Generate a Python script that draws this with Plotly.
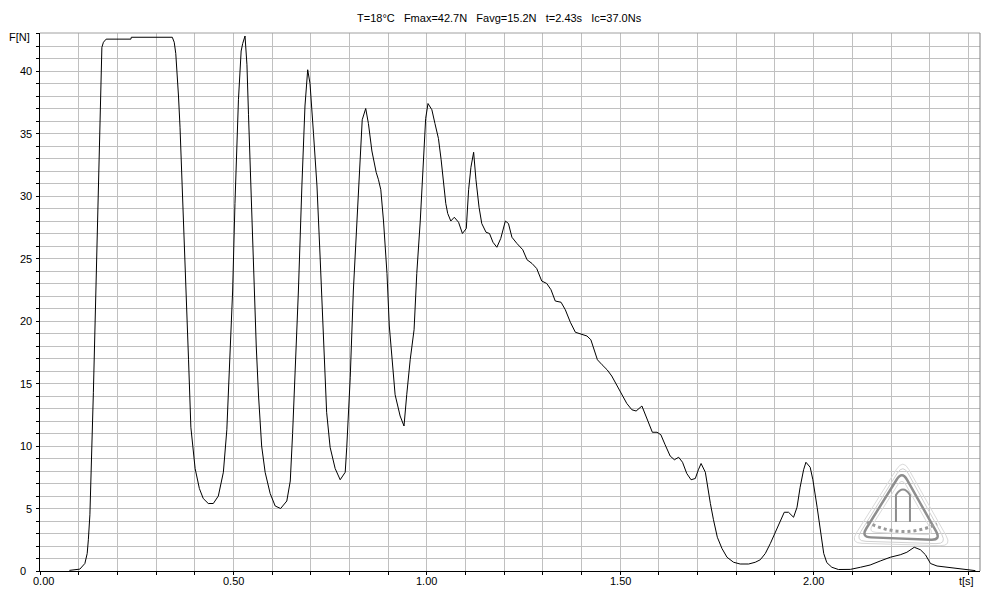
import plotly.graph_objects as go

# ---- data (time in s, force in N) ----
t_s = [0.076, 0.103, 0.116, 0.122, 0.125, 0.129, 0.138, 0.147, 0.155, 0.160, 0.164, 0.171,
       0.235, 0.236, 0.342, 0.347, 0.351, 0.354, 0.358, 0.362, 0.366, 0.371, 0.377, 0.384,
       0.390, 0.396, 0.401, 0.412, 0.422, 0.435, 0.448, 0.461, 0.474, 0.483, 0.491, 0.498,
       0.504, 0.513, 0.520, 0.524, 0.530, 0.535, 0.539, 0.543, 0.548, 0.553, 0.559, 0.565,
       0.573, 0.582, 0.595, 0.608, 0.622, 0.638, 0.647, 0.653, 0.659, 0.668, 0.677, 0.685,
       0.692, 0.698, 0.707, 0.716, 0.724, 0.733, 0.741, 0.750, 0.763, 0.776, 0.789, 0.793,
       0.802, 0.810, 0.819, 0.828, 0.833, 0.842, 0.849, 0.858, 0.869, 0.875, 0.881, 0.888,
       0.897, 0.903, 0.910, 0.918, 0.931, 0.941, 0.948, 0.957, 0.967, 0.974, 0.983, 0.991,
       0.997, 1.003, 1.013, 1.021, 1.030, 1.037, 1.043, 1.049, 1.054, 1.062, 1.071, 1.082,
       1.092, 1.102, 1.108, 1.114, 1.121, 1.127, 1.135, 1.142, 1.153, 1.162, 1.171, 1.181,
       1.191, 1.203, 1.211, 1.220, 1.233, 1.248, 1.259, 1.272, 1.284, 1.297, 1.310, 1.321,
       1.332, 1.347, 1.358, 1.371, 1.384, 1.396, 1.414, 1.424, 1.433, 1.441, 1.453, 1.466,
       1.478, 1.491, 1.504, 1.517, 1.530, 1.541, 1.556, 1.562, 1.573, 1.583, 1.595, 1.605,
       1.616, 1.629, 1.640, 1.651, 1.661, 1.672, 1.683, 1.694, 1.702, 1.709, 1.720, 1.726,
       1.733, 1.741, 1.751, 1.763, 1.776, 1.793, 1.810, 1.832, 1.849, 1.862, 1.875, 1.888,
       1.901, 1.914, 1.924, 1.935, 1.948, 1.957, 1.965, 1.974, 1.980, 1.991, 1.998, 2.009,
       2.017, 2.026, 2.034, 2.047, 2.064, 2.095, 2.121, 2.146, 2.172, 2.198, 2.224, 2.241,
       2.260, 2.276, 2.289, 2.302, 2.319, 2.345, 2.379, 2.405, 2.418]

force_N = [0.05, 0.15, 0.6, 1.4, 2.5, 4.5, 14.3, 26.6, 36.4, 41.9, 42.3, 42.55,
           42.55, 42.7, 42.7, 42.3, 41.4, 40.2, 38.0, 35.5, 32.3, 28.2, 22.6, 16.9,
           11.5, 9.6, 8.2, 6.6, 5.8, 5.4, 5.4, 6.0, 7.9, 11.3, 16.8, 22.4,
           29.4, 37.7, 41.6, 42.2, 42.8, 40.5, 36.5, 32.5, 27.5, 22.5, 18.0, 14.0,
           10.0, 7.9, 6.2, 5.2, 5.0, 5.6, 7.2, 11.0, 15.5, 22.4, 30.8, 37.2,
           40.1, 39.0, 35.0, 30.8, 25.2, 18.2, 12.7, 9.9, 8.2, 7.3, 7.9, 9.9,
           15.5, 22.4, 28.0, 33.6, 36.1, 37.0, 35.8, 33.6, 31.9, 31.3, 30.5, 28.0,
           23.8, 19.6, 16.9, 14.1, 12.4, 11.6, 14.1, 16.9, 19.3, 23.8, 28.0, 32.7,
           36.2, 37.4, 36.9, 35.8, 34.6, 32.9, 31.3, 29.4, 28.6, 28.0, 28.3, 27.9,
           27.0, 27.4, 30.5, 32.3, 33.5, 31.3, 29.1, 27.8, 27.1, 27.0, 26.3, 25.9,
           26.6, 28.0, 27.8, 26.7, 26.2, 25.7, 24.9, 24.6, 24.2, 23.2, 23.0, 22.5,
           21.6, 21.5, 20.9, 19.9, 19.1, 19.0, 18.8, 18.5, 17.7, 16.9, 16.5, 16.1,
           15.6, 14.9, 14.1, 13.4, 12.9, 12.8, 13.2, 12.7, 11.8, 11.1, 11.1, 10.9,
           10.1, 9.2, 8.9, 9.1, 8.7, 7.8, 7.3, 7.4, 8.1, 8.6, 7.9, 6.7,
           5.4, 4.1, 2.7, 1.8, 1.1, 0.7, 0.56, 0.56, 0.7, 0.9, 1.4, 2.2,
           3.1, 4.1, 4.7, 4.7, 4.3, 5.1, 6.7, 8.1, 8.7, 8.3, 7.3, 5.1,
           3.3, 1.4, 0.67, 0.3, 0.12, 0.13, 0.3, 0.48, 0.8, 1.1, 1.3, 1.5,
           1.9, 1.7, 1.3, 0.6, 0.4, 0.3, 0.2, 0.13, 0.03]

x_tick_vals = [0.5, 1.0, 1.5, 2.0]
x_tick_text = ["0.50", "1.00", "1.50", "2.00"]
y_tick_vals = [5, 10, 15, 20, 25, 30, 35, 40]
y_tick_text = ["5", "10", "15", "20", "25", "30", "35", "40"]

title_text = "T=18°C   Fmax=42.7N   Favg=15.2N   t=2.43s   Ic=37.0Ns"

FONT = "Liberation Sans"
GRID = "#C0C0C0"

fig = go.Figure()
fig.add_trace(go.Scatter(x=t_s, y=force_N, mode="lines",
                         line=dict(color="black", width=1), hoverinfo="skip"))

W, H = 1000, 600
ML, MR, MT, MB = 40, 20, 33, 29
PW, PH = W - ML - MR, H - MT - MB


def px(x, y):
    return (x - ML) / PW, (H - MB - y) / PH


def rounded_tri(pts, r):
    import math
    n = len(pts)
    segs = []
    for i in range(n):
        P = pts[i - 1]; V = pts[i]; N = pts[(i + 1) % n]
        dp = math.hypot(P[0] - V[0], P[1] - V[1]); dn = math.hypot(N[0] - V[0], N[1] - V[1])
        a = (V[0] + r * (P[0] - V[0]) / dp, V[1] + r * (P[1] - V[1]) / dp)
        b = (V[0] + r * (N[0] - V[0]) / dn, V[1] + r * (N[1] - V[1]) / dn)
        segs.append((a, V, b))
    d = ""
    for i, (a, V, b) in enumerate(segs):
        ax, ay = px(*a); vx, vy = px(*V); bx, by = px(*b)
        d += ("M" if i == 0 else "L") + f"{ax:.4f},{ay:.4f} Q{vx:.4f},{vy:.4f} {bx:.4f},{by:.4f} "
    return d + "Z"


shapes = []
# watermark logo (decoration)
shapes.append(dict(type="path", xref="paper", yref="paper",
                   path=rounded_tri([(903, 459), (850, 543), (952, 546)], 12),
                   line=dict(color="#DADADA", width=1)))
shapes.append(dict(type="path", xref="paper", yref="paper",
                   path=rounded_tri([(903, 464), (855, 541), (947, 544)], 11),
                   line=dict(color="#D0D0D0", width=1)))
shapes.append(dict(type="path", xref="paper", yref="paper",
                   path=rounded_tri([(902, 471), (861, 537), (941, 540)], 10),
                   line=dict(color="#8E8E8E", width=2.5)))
shapes.append(dict(type="path", xref="paper", yref="paper",
                   path=rounded_tri([(902, 478), (868, 532), (934, 535)], 8),
                   line=dict(color="#DADADA", width=1)))
# rocket
p1 = px(896, 522); p2 = px(896, 495); p3 = px(903, 484); p4 = px(910, 495); p5 = px(910, 522)
shapes.append(dict(type="path", xref="paper", yref="paper",
                   path=f"M{p1[0]:.4f},{p1[1]:.4f} L{p2[0]:.4f},{p2[1]:.4f} Q{p3[0]:.4f},{p3[1]:.4f} {p4[0]:.4f},{p4[1]:.4f} L{p5[0]:.4f},{p5[1]:.4f}",
                   line=dict(color="#8E8E8E", width=2)))
# dotted arc text
a1 = px(867, 522); a2 = px(902, 540); a3 = px(937, 524)
shapes.append(dict(type="path", xref="paper", yref="paper",
                   path=f"M{a1[0]:.4f},{a1[1]:.4f} Q{a2[0]:.4f},{a2[1]:.4f} {a3[0]:.4f},{a3[1]:.4f}",
                   line=dict(color="#9A9A9A", width=3, dash="dot")))
# top and right border (gray)
shapes.append(dict(type="line", xref="paper", yref="paper", x0=0, x1=1, y0=1, y1=1,
                   line=dict(color="#A0A0A0", width=1)))
shapes.append(dict(type="line", xref="paper", yref="paper", x0=1, x1=1, y0=0, y1=1,
                   line=dict(color="#808080", width=1)))

TF = dict(family=FONT, size=11, color="black")
annotations = []
tx, ty = px(499, 18)
annotations.append(dict(text=title_text.replace(" ", "\u00a0"), xref="paper", yref="paper",
                        x=tx, y=ty, xanchor="center", yanchor="middle", showarrow=False, font=TF))
fx, fy = px(32, 37)
annotations.append(dict(text="F[N]", xref="paper", yref="paper", x=fx, y=fy,
                        xanchor="right", yanchor="middle", showarrow=False, font=TF))
sx, sy = px(976, 581)
annotations.append(dict(text="t[s]", xref="paper", yref="paper", x=sx, y=sy,
                        xanchor="right", yanchor="middle", showarrow=False, font=TF))

# y tick labels (right aligned a few px left of the axis)
ylab_x, _ = px(34, 0)
for v, s in zip(y_tick_vals, y_tick_text):
    annotations.append(dict(text=s, xref="paper", yref="y", x=ylab_x, y=v,
                            xanchor="right", yanchor="middle", showarrow=False, font=TF))
zx, _ = px(27.5, 0)
annotations.append(dict(text="0", xref="paper", yref="y", x=zx, y=0,
                        xanchor="right", yanchor="middle", showarrow=False, font=TF))
# x tick labels
_, xlab_y = px(0, 581)
for v, s in zip(x_tick_vals, x_tick_text):
    annotations.append(dict(text=s, xref="x", yref="paper", x=v, y=xlab_y,
                            xanchor="center", yanchor="middle", showarrow=False, font=TF))
ox, _ = px(43.5, 0)
annotations.append(dict(text="0.00", xref="paper", yref="paper", x=ox, y=xlab_y,
                        xanchor="center", yanchor="middle", showarrow=False, font=TF))

fig.update_layout(
    width=W, height=H,
    margin=dict(l=ML, r=MR, t=MT, b=MB, pad=0),
    paper_bgcolor="white", plot_bgcolor="white",
    showlegend=False,
    shapes=shapes, annotations=annotations,
    xaxis=dict(range=[0, 2.43], tickmode="array", tickvals=x_tick_vals, showticklabels=False,
               showgrid=True, gridcolor=GRID, gridwidth=1,
               ticks="outside", ticklen=3, tickcolor="black",
               showline=True, linecolor="black", linewidth=1, zeroline=False,
               minor=dict(tickmode="linear", tick0=0, dtick=0.1, showgrid=True, gridcolor=GRID,
                          ticks="outside", ticklen=3, tickcolor="black"),
               automargin=False, fixedrange=True),
    yaxis=dict(range=[0, PH / 12.5], tickmode="array", tickvals=y_tick_vals, showticklabels=False,
               showgrid=True, gridcolor=GRID, gridwidth=1,
               ticks="outside", ticklen=3, tickcolor="black",
               showline=True, linecolor="black", linewidth=1, zeroline=False,
               minor=dict(tickmode="linear", tick0=0, dtick=1, showgrid=True, gridcolor=GRID,
                          ticks="outside", ticklen=3, tickcolor="black"),
               automargin=False, fixedrange=True),
)

fig.write_html("out.html", config={"displayModeBar": False},
               post_script="document.body.style.margin='0px';document.body.style.overflow='hidden';")
